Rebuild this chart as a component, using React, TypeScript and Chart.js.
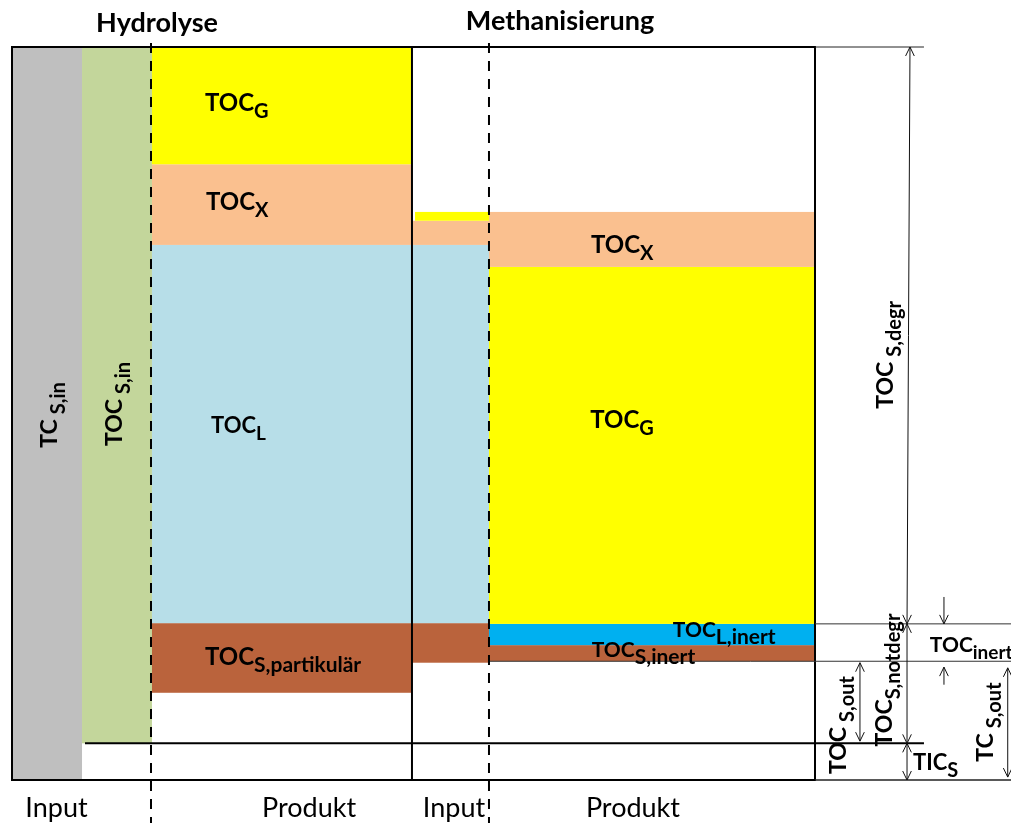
import React, { useEffect, useRef } from "react";
import { Chart, registerables } from "chart.js";

Chart.register(...registerables);

// ---------------- DATA (share of TC_S,in in %) ----------------
const stageTitles = ["Hydrolyse", "Methanisierung"];
const columnLabels = ["Input", "Produkt", "Input", "Produkt"];

const tcSIn = [0, 100]; // TC_S,in
const tocSIn = [5, 100]; // TOC_S,in (above TIC_S)
const ticS = 5; // TIC_S
const tocSOut = 16.2; // top of TOC_S,out / TC_S,out
const tocSDegrBottom = 21.3; // lower end of TOC_S,degr

// Hydrolyse Produkt boundaries: TOC_S,partikulär | TOC_L | TOC_X | TOC_G
const hydroProduct = [11.9, 21.4, 73, 84, 100];
// Methanisierung Input boundaries: TOC_S,partikulär | TOC_L | TOC_X | TOC_G
const methInput = [16, 21.4, 73, 76.3, 77.5];
// Methanisierung Produkt boundaries: TOC_S,inert | TOC_L,inert | TOC_G | TOC_X
const methProduct = [16.2, 18.4, 21.3, 70, 77.5];

// ---------------- STYLE / LAYOUT ----------------
const FONT = "Lato, 'Open Sans', sans-serif";
const GRAY = "#BFBFBF";
const GREEN = "#C3D69B";
const YELLOW = "#FFFF00";
const PEACH = "#FAC08F";
const LBLUE = "#B7DEE8";
const BROWN = "#BA633C";
const BBLUE = "#00B0F0";

// x positions in axis units (0..100 = framed box)
const COL = { tcEnd: 8.72, tocEnd: 17.43, mid: 49.81, methInYellow: 50.19, dash2: 59.4 };

type Seg = { x0: number; x1: number; y0: number; y1: number; color: string };
function stackSegs(x0: number, x1: number, b: number[], colors: string[]): Seg[] {
  const out: Seg[] = [];
  for (let i = 0; i < colors.length; i++) out.push({ x0, x1, y0: b[i], y1: b[i + 1], color: colors[i] });
  return out;
}
const segments: Seg[] = [
  { x0: 0, x1: COL.tcEnd, y0: tcSIn[0], y1: tcSIn[1], color: GRAY },
  { x0: COL.tcEnd, x1: COL.tocEnd, y0: tocSIn[0], y1: tocSIn[1], color: GREEN },
  ...stackSegs(COL.tocEnd, COL.mid, hydroProduct, [BROWN, LBLUE, PEACH, YELLOW]),
  ...stackSegs(COL.mid, COL.dash2, methInput.slice(0, 4), [BROWN, LBLUE, PEACH]),
  { x0: COL.methInYellow, x1: COL.dash2, y0: methInput[3], y1: methInput[4], color: YELLOW },
  ...stackSegs(COL.dash2, 100, methProduct, [BROWN, BBLUE, YELLOW, PEACH]),
];

type Label = {
  main: string;
  sub?: string;
  x: number;
  y: number;
  size: number;
  subSize?: number;
  gap?: number;
  drop?: number;
  rotate?: boolean;
  bold?: boolean;
  center?: boolean;
};

const labels: Label[] = [
  // titles
  { main: stageTitles[0], x: 18.06, y: 102.0, size: 27, bold: true, center: true },
  { main: stageTitles[1], x: 68.24, y: 102.3, size: 27, bold: true, center: true },
  // bottom column labels
  { main: columnLabels[0], x: 5.54, y: -5.05, size: 27, center: true },
  { main: columnLabels[1], x: 36.99, y: -5.05, size: 27, center: true },
  { main: columnLabels[2], x: 55.04, y: -5.05, size: 27, center: true },
  { main: columnLabels[3], x: 77.33, y: -5.05, size: 27, center: true },
  // hydrolyse product
  { main: "TOC", sub: "G", x: 24.03, y: 91.27, size: 24, subSize: 20, drop: 7, bold: true },
  { main: "TOC", sub: "X", x: 24.16, y: 77.76, size: 24, subSize: 20, drop: 7, bold: true },
  { main: "TOC", sub: "L", x: 24.78, y: 47.34, size: 22, subSize: 19, drop: 7, bold: true },
  { main: "TOC", sub: "S,partikulär", x: 24.03, y: 15.69, size: 24, subSize: 21, drop: 7, bold: true },
  // methanisierung product
  { main: "TOC", sub: "X", x: 72.1, y: 71.9, size: 24, subSize: 20, drop: 7, bold: true },
  { main: "TOC", sub: "G", x: 72.0, y: 48.0, size: 24, subSize: 20, drop: 7, bold: true },
  { main: "TOC", sub: "L,inert", x: 82.3, y: 19.5, size: 21, subSize: 21, drop: 7, bold: true },
  { main: "TOC", sub: "S,inert", x: 72.2, y: 16.78, size: 21, subSize: 21, drop: 7, bold: true },
  // right annotations
  { main: "TOC", sub: "inert", x: 114.3, y: 17.46, size: 21, subSize: 19, drop: 7, bold: true },
  { main: "TIC", sub: "S", x: 112.2, y: 1.36, size: 22, subSize: 20, drop: 7, bold: true },
  // rotated
  { main: "TC", sub: "S,in", x: 5.6, y: 49.8, size: 23, subSize: 20, gap: 5, drop: 8, bold: true, rotate: true },
  { main: "TOC", sub: "S,in", x: 13.7, y: 51.3, size: 23, subSize: 20, gap: 5, drop: 8, bold: true, rotate: true },
  { main: "TOC", sub: "S,degr", x: 109.7, y: 58.0, size: 23, subSize: 20, gap: 5, drop: 8, bold: true, rotate: true },
  { main: "TOC", sub: "S,out", x: 103.86, y: 7.5, size: 23, subSize: 20, gap: 5, drop: 8, bold: true, rotate: true },
  { main: "TOC", sub: "S,notdegr", x: 109.6, y: 13.64, size: 23, subSize: 20, gap: 0, drop: 8, bold: true, rotate: true },
  { main: "TC", sub: "S,out", x: 122.2, y: 7.9, size: 23, subSize: 20, gap: 5, drop: 8, bold: true, rotate: true },
];

type Line = { x0: number; y0: number; x1: number; y1: number; w: number; color: string; dash?: number[] };
const lines: Line[] = [
  { x0: COL.mid, y0: 100, x1: COL.mid, y1: 0, w: 2, color: "#000" },
  { x0: 9.09, y0: ticS, x1: 113.57, y1: ticS, w: 2, color: "#000" },
  { x0: 100, y0: 100, x1: 113.57, y1: 100, w: 1, color: "#222" },
  { x0: 100, y0: tocSDegrBottom, x1: 124.5, y1: tocSDegrBottom, w: 1, color: "#333" },
  { x0: COL.dash2, y0: tocSOut, x1: 124.5, y1: tocSOut, w: 1, color: "#333" },
  { x0: 100, y0: 0, x1: 124.5, y1: 0, w: 1.5, color: "#222" },
  { x0: 17.31, y0: 100.55, x1: 17.31, y1: -5.9, w: 2, color: "#000", dash: [10, 8] },
  { x0: COL.dash2, y0: 100.55, x1: COL.dash2, y1: -5.9, w: 2, color: "#000", dash: [10, 8] },
];

type Arrow = { x0: number; y0: number; x1: number; y1: number; h0: boolean; h1: boolean };
const arrows: Arrow[] = [
  { x0: 111.83, y0: 100, x1: 111.46, y1: tocSDegrBottom, h0: true, h1: true },
  { x0: 111.46, y0: tocSDegrBottom, x1: 111.46, y1: ticS, h0: true, h1: true },
  { x0: 111.46, y0: ticS, x1: 111.46, y1: 0, h0: true, h1: true },
  { x0: 105.6, y0: 16.0, x1: 105.6, y1: 5.3, h0: true, h1: true },
  { x0: 116.06, y0: 24.97, x1: 116.06, y1: tocSDegrBottom, h0: false, h1: true },
  { x0: 116.06, y0: 13.0, x1: 116.06, y1: 15.4, h0: false, h1: true },
  { x0: 124.0, y0: 15.3, x1: 124.0, y1: 0.4, h0: true, h1: true },
];

function drawHead(ctx: CanvasRenderingContext2D, tx: number, ty: number, fx: number, fy: number) {
  const ang = Math.atan2(ty - fy, tx - fx);
  const len = 10;
  const spread = 0.45;
  ctx.beginPath();
  ctx.moveTo(tx - len * Math.cos(ang - spread), ty - len * Math.sin(ang - spread));
  ctx.lineTo(tx, ty);
  ctx.lineTo(tx - len * Math.cos(ang + spread), ty - len * Math.sin(ang + spread));
  ctx.stroke();
}

const diagramPlugin = {
  id: "diagram",
  afterDraw(chart: any) {
    const ctx: CanvasRenderingContext2D = chart.ctx;
    const xs = chart.scales.x;
    const ys = chart.scales.y;
    const px = (u: number) => xs.getPixelForValue(u);
    const py = (v: number) => ys.getPixelForValue(v);
    ctx.save();

    for (const s of segments) {
      const l = px(s.x0), r = px(s.x1), t = py(s.y1), b = py(s.y0);
      ctx.fillStyle = s.color;
      ctx.fillRect(l, t, r - l, b - t);
    }

    // frame
    ctx.strokeStyle = "#000";
    ctx.lineWidth = 2;
    ctx.setLineDash([]);
    ctx.strokeRect(px(0), py(100), px(100) - px(0), py(0) - py(100));

    for (const ln of lines) {
      ctx.beginPath();
      ctx.strokeStyle = ln.color;
      ctx.lineWidth = ln.w;
      ctx.setLineDash(ln.dash || []);
      ctx.moveTo(px(ln.x0), py(ln.y0));
      ctx.lineTo(px(ln.x1), py(ln.y1));
      ctx.stroke();
    }
    ctx.setLineDash([]);

    ctx.strokeStyle = "#111";
    ctx.lineWidth = 1;
    for (const a of arrows) {
      const x0 = px(a.x0), y0 = py(a.y0), x1 = px(a.x1), y1 = py(a.y1);
      ctx.beginPath();
      ctx.moveTo(x0, y0);
      ctx.lineTo(x1, y1);
      ctx.stroke();
      if (a.h0) drawHead(ctx, x0, y0, x1, y1);
      if (a.h1) drawHead(ctx, x1, y1, x0, y0);
    }

    ctx.fillStyle = "#000";
    ctx.textBaseline = "alphabetic";
    ctx.textAlign = "left";
    for (const lb of labels) {
      const w = lb.bold ? "bold " : "";
      const mainFont = `${w}${lb.size}px ${FONT}`;
      const subFont = `${w}${lb.subSize || lb.size}px ${FONT}`;
      ctx.font = mainFont;
      const w1 = ctx.measureText(lb.main).width;
      let w2 = 0;
      if (lb.sub) {
        ctx.font = subFont;
        w2 = ctx.measureText(lb.sub).width;
      }
      const gap = lb.sub ? lb.gap || 0 : 0;
      const total = w1 + gap + w2;
      ctx.save();
      ctx.translate(px(lb.x), py(lb.y));
      if (lb.rotate) ctx.rotate(-Math.PI / 2);
      const x0 = lb.rotate || lb.center ? -total / 2 : 0;
      ctx.font = mainFont;
      ctx.fillText(lb.main, x0, 0);
      if (lb.sub) {
        ctx.font = subFont;
        ctx.fillText(lb.sub, x0 + w1 + gap, lb.drop || 0);
      }
      ctx.restore();
    }
    ctx.restore();
  },
};

export default function App() {
  const ref = useRef<HTMLCanvasElement | null>(null);
  useEffect(() => {
    if (!ref.current) return;
    const chart = new Chart(ref.current, {
      type: "scatter",
      data: { datasets: [] },
      options: {
        animation: false,
        responsive: false,
        events: [],
        layout: { padding: { left: 12, right: 196, top: 47, bottom: 43 } },
        scales: {
          x: { type: "linear", min: 0, max: 100, display: false },
          y: { type: "linear", min: 0, max: 100, display: false },
        },
        plugins: {
          legend: { display: false },
          tooltip: { enabled: false },
          title: { display: false },
        },
      },
      plugins: [diagramPlugin],
    } as any);
    return () => chart.destroy();
  }, []);
  return (
    <div style={{ position: "absolute", left: 0, top: 0, width: 1011, height: 823, background: "#fff" }}>
      <canvas ref={ref} width={1011} height={823} style={{ display: "block" }} />
    </div>
  );
}
